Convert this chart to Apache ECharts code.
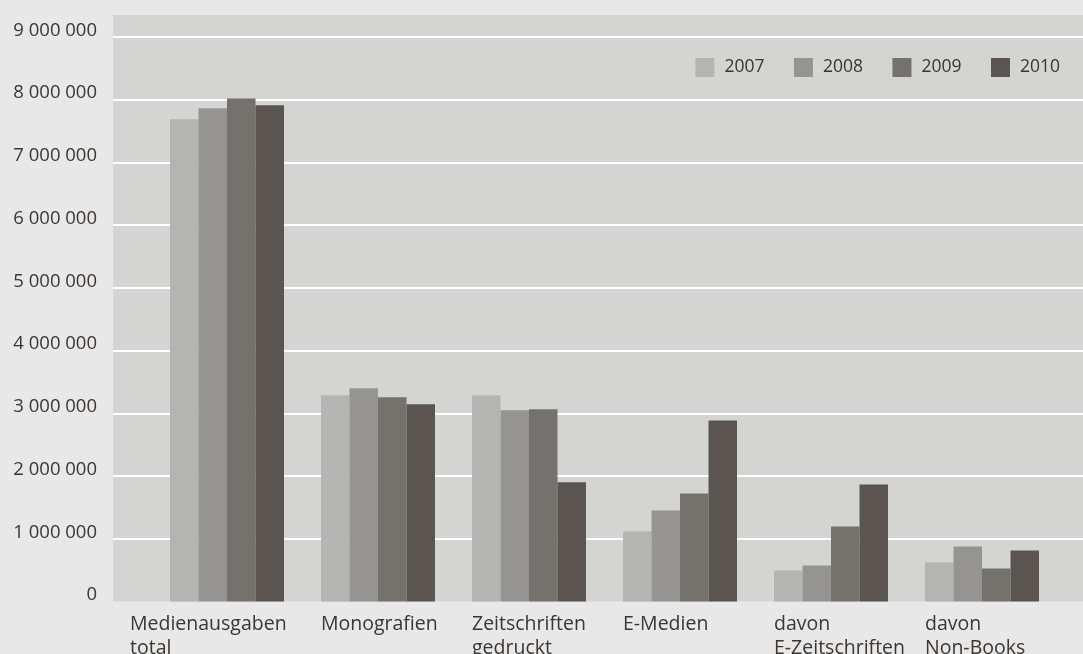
<!DOCTYPE html>
<html>
<head>
<meta charset="utf-8">
<script src="https://cdn.jsdelivr.net/npm/echarts@6/dist/echarts.min.js"></script>
<style>html,body{margin:0;padding:0;background:#e8e8e8;}#c{width:1083px;height:654px;}</style>
</head>
<body>
<div id="c"></div>
<script>
const categories = ['Medienausgaben\ntotal', 'Monografien', 'Zeitschriften\ngedruckt', 'E-Medien', 'davon\nE-Zeitschriften', 'davon\nNon-Books'];
const years = ['2007', '2008', '2009', '2010'];
const values2007 = [7690000, 3290000, 3290000, 1120000, 495000, 622000];
const values2008 = [7865000, 3400000, 3050000, 1450000, 575000, 878000];
const values2009 = [8020000, 3255000, 3065000, 1720000, 1195000, 527000];
const values2010 = [7910000, 3145000, 1900000, 2885000, 1865000, 815000];
const seriesValues = [values2007, values2008, values2009, values2010];
const colors = ['#b4b4b2', '#959492', '#75726d', '#5a5550'];
const textColor = '#3c3530';
const font = 'Open Sans';
const yMax = 9350000;

const chart = echarts.init(document.getElementById('c'), null, {renderer: 'canvas'});
const fmt = v => String(v).replace(/\B(?=(\d{3})+(?!\d))/g, ' ');

chart.setOption({
  backgroundColor: '#e8e8e8',
  animation: false,
  textStyle: {fontFamily: font},
  legend: {
    data: years,
    icon: 'rect',
    itemWidth: 19,
    itemHeight: 19,
    itemGap: 29.5,
    right: 23,
    top: 58,
    padding: 0,
    textStyle: {fontSize: 17.5, color: textColor, fontFamily: font, padding: [0, 0, 0, 5]}
  },
  grid: [
    {left: 113, right: 0, top: 15, bottom: 52.5, show: true, backgroundColor: '#d4d4d2', borderWidth: 0, containLabel: false, outerBoundsMode: 'none'},
    {left: 151.5, right: 25.5, top: 15, bottom: 52.5, containLabel: false, outerBoundsMode: 'none'}
  ],
  xAxis: [
    {type: 'value', gridIndex: 0, show: false, min: 0, max: 1},
    {
      type: 'category', gridIndex: 1,
      data: categories.map((c, i) => i === 0 ? {value: c, textStyle: {align: 'left', padding: [0, 0, 0, -97]}} : c),
      axisLine: {show: false}, axisTick: {show: false},
      axisLabel: {interval: 0, align: 'left', padding: [0, 0, 0, -57], margin: 11, fontSize: 19.5, lineHeight: 24, color: textColor, fontFamily: font}
    }
  ],
  yAxis: [
    {
      type: 'value', gridIndex: 0, min: 0, max: yMax, interval: 1000000,
      axisLine: {show: false}, axisTick: {show: false},
      splitLine: {show: true, showMaxLine: false, showMinLine: false, lineStyle: {color: '#ffffff', width: 2}},
      axisLabel: {formatter: fmt, showMaxLabel: false, margin: 16, fontSize: 18.5, lineHeight: 13, color: textColor, fontFamily: font, verticalAlign: 'bottom'}
    },
    {type: 'value', gridIndex: 1, min: 0, max: yMax, interval: 1000000, show: false, splitLine: {show: false}}
  ],
  series: years.map((y, i) => ({
    name: y,
    type: 'bar',
    xAxisIndex: 1,
    yAxisIndex: 1,
    data: seriesValues[i],
    barWidth: 28.5,
    barGap: '0%',
    itemStyle: {color: colors[i]}
  }))
});
</script>
</body>
</html>
